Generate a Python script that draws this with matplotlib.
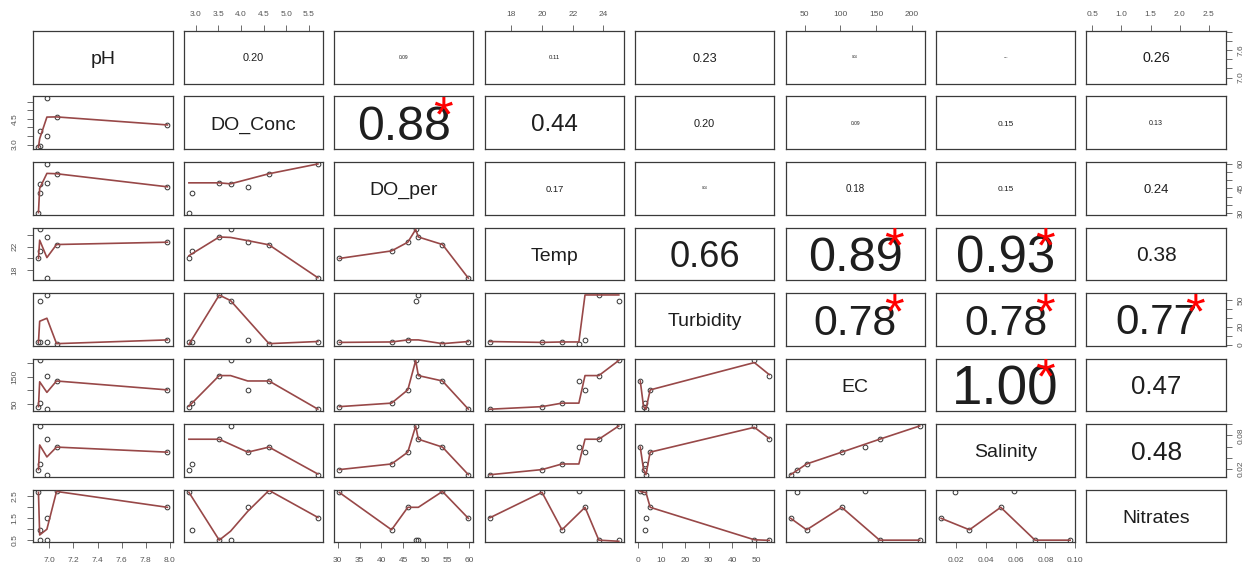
import numpy as np
import matplotlib
matplotlib.use("Agg")
import matplotlib.pyplot as plt

plt.rcParams["font.family"] = ["Liberation Sans", "DejaVu Sans"]

# ---------------- data ----------------
var_names = ["pH", "DO_Conc", "DO_per", "Temp", "Turbidity", "EC", "Salinity", "Nitrates"]
pH        = [6.91, 6.92, 6.92, 6.98, 6.98, 7.06, 7.98]
DO_Conc   = [2.85, 2.91, 3.77, 3.52, 5.70, 4.62, 4.15]
DO_per    = [30.4, 42.3, 47.8, 48.4, 59.8, 53.9, 46.0]
Temp      = [20.0, 21.3, 25.0, 23.7, 16.6, 22.4, 22.8]
Turbidity = [2.4, 2.9, 49.3, 55.6, 3.4, 1.0, 5.2]
EC        = [40.0, 53.0, 211.0, 155.0, 30.7, 135.0, 102.0]
Salinity  = [0.019, 0.029, 0.0966, 0.073, 0.010, 0.059, 0.050]
Nitrates  = [2.66, 0.96, 0.49, 0.49, 1.48, 2.70, 1.98]
data = [pH, DO_Conc, DO_per, Temp, Turbidity, EC, Salinity, Nitrates]

# correlation values shown in the upper panels (row by row)
cor_row1 = [0.20, 0.09, 0.11, 0.23, 0.06, 0.04, 0.26]
cor_row2 = [0.88, 0.44, 0.20, 0.09, 0.15, 0.13]
cor_row3 = [0.17, 0.06, 0.18, 0.15, 0.24]
cor_row4 = [0.66, 0.89, 0.93, 0.38]
cor_row5 = [0.78, 0.78, 0.77]
cor_row6 = [1.00, 0.47]
cor_row7 = [0.48]
cor_rows = [cor_row1, cor_row2, cor_row3, cor_row4, cor_row5, cor_row6, cor_row7]
starred = [(1, 2), (3, 5), (3, 6), (4, 5), (4, 6), (4, 7), (5, 6)]

# axis ticks
ticks = {
    "pH": [7.0, 7.2, 7.4, 7.6, 7.8, 8.0],
    "DO_Conc": [3.0, 3.5, 4.0, 4.5, 5.0, 5.5],
    "DO_per": [30, 35, 40, 45, 50, 55, 60],
    "Temp": [18, 20, 22, 24],
    "Turbidity": [0, 10, 20, 30, 40, 50],
    "EC": [50, 100, 150, 200],
    "Salinity": [0.02, 0.04, 0.06, 0.08, 0.10],
    "Nitrates": [0.5, 1.0, 1.5, 2.0, 2.5],
}
fmt = {"pH": "{:.1f}", "DO_Conc": "{:.1f}", "DO_per": "{:.0f}", "Temp": "{:.0f}",
       "Turbidity": "{:.0f}", "EC": "{:.0f}", "Salinity": "{:.2f}", "Nitrates": "{:.1f}"}
# labels that survive on the vertical axes
ylabels_shown = {
    "pH": [7.0, 7.6], "DO_Conc": [3.0, 4.5], "DO_per": [30, 45, 60], "Temp": [18, 22],
    "Turbidity": [0, 20, 50], "EC": [50, 150], "Salinity": [0.02, 0.08],
    "Nitrates": [0.5, 1.5, 2.5],
}


# ---------------- R-style lowess ----------------
def lowest(x, y, xs, nleft, nright, w, userw, rw):
    n = len(x)
    rng = x[-1] - x[0]
    h = max(xs - x[nleft], x[nright] - xs)
    h9 = 0.999 * h
    h1 = 0.001 * h
    a = 0.0
    j = nleft
    while j < n:
        w[j] = 0.0
        r = abs(x[j] - xs)
        if r <= h9:
            if r <= h1:
                w[j] = 1.0
            else:
                w[j] = (1 - (r / h) ** 3) ** 3
            if userw:
                w[j] *= rw[j]
            a += w[j]
        elif x[j] > xs:
            break
        j += 1
    nrt = j - 1
    if a <= 0:
        return 0.0, False
    for k in range(nleft, nrt + 1):
        w[k] /= a
    if h > 0:
        a = sum(w[k] * x[k] for k in range(nleft, nrt + 1))
        b = xs - a
        c = sum(w[k] * (x[k] - a) ** 2 for k in range(nleft, nrt + 1))
        if np.sqrt(c) > 0.001 * rng:
            b /= c
            for k in range(nleft, nrt + 1):
                w[k] *= (b * (x[k] - a) + 1.0)
    ys = sum(w[k] * y[k] for k in range(nleft, nrt + 1))
    return ys, True


def lowess(xin, yin, f=2 / 3, nsteps=3):
    o = np.argsort(xin, kind="stable")
    x = np.asarray(xin, float)[o]
    y = np.asarray(yin, float)[o]
    n = len(x)
    delta = 0.01 * (x[-1] - x[0])
    ns = max(2, min(n, int(f * n + 1e-7)))
    ys = np.zeros(n)
    rw = np.zeros(n)
    w = np.zeros(n)
    it = 1
    while it <= nsteps + 1:
        nleft, nright, last, i = 0, ns - 1, -1, 0
        while True:
            if nright < n - 1:
                d1 = x[i] - x[nleft]
                d2 = x[nright + 1] - x[i]
                if d1 > d2:
                    nleft += 1
                    nright += 1
                    continue
            val, ok = lowest(x, y, x[i], nleft, nright, w, it > 1, rw)
            ys[i] = val if ok else y[i]
            if last < i - 1:
                denom = x[i] - x[last]
                for j in range(last + 1, i):
                    alpha = (x[j] - x[last]) / denom
                    ys[j] = alpha * ys[i] + (1 - alpha) * ys[last]
            last = i
            cut = x[last] + delta
            i = last + 1
            while i < n:
                if x[i] > cut:
                    break
                if x[i] == x[last]:
                    ys[i] = ys[last]
                    last = i
                i += 1
            i = max(last + 1, i - 1)
            if last >= n - 1:
                break
        res = y - ys
        sc = np.sum(np.abs(res)) / n
        if it > nsteps:
            break
        srt = np.sort(np.abs(res))
        m1 = n // 2
        if n % 2 == 0:
            cmad = 3 * (srt[m1] + srt[n - m1 - 1])
        else:
            cmad = 6 * srt[m1]
        if cmad < 1e-7 * sc:
            break
        c9, c1 = 0.999 * cmad, 0.001 * cmad
        for k in range(n):
            r = abs(res[k])
            if r <= c1:
                rw[k] = 1.0
            elif r <= c9:
                rw[k] = (1 - (r / cmad) ** 2) ** 2
            else:
                rw[k] = 0.0
        it += 1
    return x, ys


# ---------------- layout ----------------
W, H = 1256, 571
fig = plt.figure(figsize=(W / 100, H / 100), dpi=100)
nv = len(var_names)
col_left0, col_step, pw = 33.3, 150.45, 139.3
row_top0, row_step, ph = 31.0, 65.5, 52.6

frame_col = "#3a3a3a"
tick_col = "#555555"
txt_col = "#1e1e1e"
line_col = "#984848"
pt_col = "#333333"

limits = []
for v in data:
    lo, hi = min(v), max(v)
    r = hi - lo
    limits.append((lo - 0.04 * r, hi + 0.04 * r))

BASE = 39.5  # font size of |r| = 1

for i in range(nv):
    for j in range(nv):
        left = (col_left0 + j * col_step) / W
        bottom = 1 - (row_top0 + i * row_step + ph) / H
        ax = fig.add_axes([left, bottom, pw / W, ph / H])
        ax.set_xlim(*limits[j])
        ax.set_ylim(*limits[i])
        for s in ax.spines.values():
            s.set_color(frame_col)
            s.set_linewidth(0.9)
        ax.set_xticks([])
        ax.set_yticks([])

        if i == j:
            fs = 14
            ax.annotate(var_names[i], xy=(0.5, 0.5), xycoords="axes fraction",
                        xytext=(0, -0.358 * fs), textcoords="offset points",
                        ha="center", va="baseline", fontsize=fs, color=txt_col)
        elif j > i:
            r = cor_rows[i][j - i - 1]
            fs = BASE * abs(r)
            ax.annotate("{:.2f}".format(r), xy=(0.5, 0.5), xycoords="axes fraction",
                        xytext=(0, -0.358 * fs), textcoords="offset points",
                        ha="center", va="baseline", fontsize=fs, color=txt_col, zorder=3)
            if (i, j) in starred:
                ax.annotate("*", xy=(0.78, 0.8), xycoords="axes fraction",
                            xytext=(0, -0.45 * BASE), textcoords="offset points",
                            ha="center", va="baseline", fontsize=BASE * 0.92,
                            color="#ff0000", zorder=4, annotation_clip=False)
        else:
            xv, yv = data[j], data[i]
            ax.plot(xv, yv, linestyle="none", marker="o", markersize=3.4,
                    markerfacecolor="none", markeredgecolor=pt_col,
                    markeredgewidth=0.7, zorder=2)
            lx, ly = lowess(xv, yv)
            ax.plot(lx, ly, color=line_col, linewidth=1.2, zorder=3)

        name_x, name_y = var_names[j], var_names[i]
        # top axis
        if i == 0 and j % 2 == 1:
            ax.xaxis.set_ticks_position("top")
            ax.set_xticks(ticks[name_x])
            ax.set_xticklabels([fmt[name_x].format(t) for t in ticks[name_x]])
            ax.tick_params(axis="x", top=True, bottom=False, labeltop=True,
                           labelbottom=False, direction="out", length=4.5, width=0.6,
                           colors=tick_col, labelsize=6, pad=4.5)
        # bottom axis
        if i == nv - 1 and j % 2 == 0:
            ax.set_xticks(ticks[name_x])
            ax.set_xticklabels([fmt[name_x].format(t) for t in ticks[name_x]])
            ax.tick_params(axis="x", direction="out", length=4.5, width=0.6,
                           colors=tick_col, labelsize=6, pad=6)
        # left axis
        if j == 0 and i % 2 == 1:
            ax.set_yticks(ticks[name_y])
            ax.set_yticklabels([fmt[name_y].format(t) if t in ylabels_shown[name_y] else ""
                                for t in ticks[name_y]], rotation=90, va="center")
            ax.tick_params(axis="y", direction="out", length=4.5, width=0.6,
                           colors=tick_col, labelsize=6, pad=6)
        # right axis
        if j == nv - 1 and i % 2 == 0:
            ax.yaxis.set_ticks_position("right")
            ax.set_yticks(ticks[name_y])
            ax.set_yticklabels([fmt[name_y].format(t) if t in ylabels_shown[name_y] else ""
                                for t in ticks[name_y]], rotation=90, va="center")
            ax.tick_params(axis="y", right=True, left=False, labelright=True,
                           labelleft=False, direction="out", length=4.5, width=0.6,
                           colors=tick_col, labelsize=6, pad=4)

fig.savefig("out.png", dpi=100)
